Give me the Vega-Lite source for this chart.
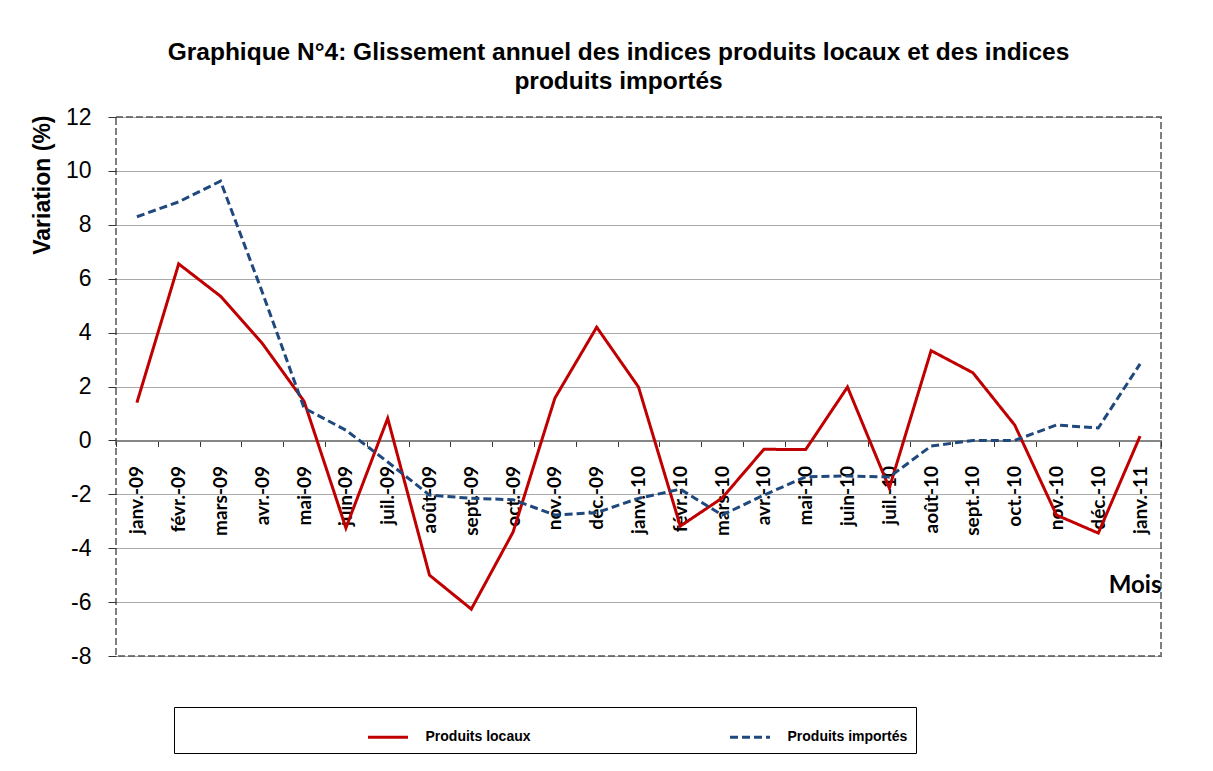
{
  "$schema": "https://vega.github.io/schema/vega-lite/v6.json",
  "width": 1045,
  "height": 539,
  "autosize": {"type": "none"},
  "padding": {"left": 116, "top": 117, "right": 52, "bottom": 115},
  "background": "white",
  "title": {
    "text": ["Graphique N°4: Glissement annuel des indices produits locaux et des indices", "produits importés"],
    "anchor": "middle",
    "frame": "group",
    "dx": -20,
    "offset": 12,
    "font": "Liberation Sans",
    "fontSize": 24.5,
    "fontWeight": "bold",
    "lineHeight": 29,
    "color": "black"
  },
  "config": {
    "font": "Liberation Sans",
    "view": {"stroke": "#7f7f7f", "strokeWidth": 2, "strokeDash": [7, 3]},
    "legend": {
      "orient": "none",
      "legendX": 58,
      "legendY": 590,
      "direction": "horizontal",
      "strokeColor": "black",
      "strokeWidth": 1,
      "padding": 8.5,
      "title": null,
      "symbolType": "stroke",
      "symbolSize": 1600,
      "symbolStrokeWidth": 3,
      "symbolOffset": 184,
      "labelOffset": 16,
      "columnPadding": 13,
      "labelFont": "Liberation Sans",
      "labelFontSize": 14,
      "labelFontWeight": "bold",
      "labelColor": "black",
      "labelLimit": 400
    }
  },
  "data": {
    "values": [
      {"mois": "janv.-09", "Produits locaux": 1.4, "Produits importés": 8.3},
      {"mois": "févr.-09", "Produits locaux": 6.55, "Produits importés": 8.85},
      {"mois": "mars-09", "Produits locaux": 5.35, "Produits importés": 9.62},
      {"mois": "avr.-09", "Produits locaux": 3.6, "Produits importés": 5.5},
      {"mois": "mai-09", "Produits locaux": 1.45, "Produits importés": 1.2},
      {"mois": "juin-09", "Produits locaux": -3.25, "Produits importés": 0.38},
      {"mois": "juil.-09", "Produits locaux": 0.82, "Produits importés": -0.8},
      {"mois": "août-09", "Produits locaux": -5.0, "Produits importés": -2.03},
      {"mois": "sept.-09", "Produits locaux": -6.26, "Produits importés": -2.15},
      {"mois": "oct.-09", "Produits locaux": -3.4, "Produits importés": -2.2},
      {"mois": "nov.-09", "Produits locaux": 1.57, "Produits importés": -2.77},
      {"mois": "déc.-09", "Produits locaux": 4.2, "Produits importés": -2.68},
      {"mois": "janv.-10", "Produits locaux": 1.98, "Produits importés": -2.15},
      {"mois": "févr.-10", "Produits locaux": -3.18, "Produits importés": -1.81},
      {"mois": "mars-10", "Produits locaux": -2.14, "Produits importés": -2.77},
      {"mois": "avr.-10", "Produits locaux": -0.33, "Produits importés": -2.03},
      {"mois": "mai-10", "Produits locaux": -0.34, "Produits importés": -1.35},
      {"mois": "juin-10", "Produits locaux": 1.98, "Produits importés": -1.32},
      {"mois": "juil.-10", "Produits locaux": -1.77, "Produits importés": -1.36},
      {"mois": "août-10", "Produits locaux": 3.33, "Produits importés": -0.21},
      {"mois": "sept.-10", "Produits locaux": 2.51, "Produits importés": 0.0},
      {"mois": "oct.-10", "Produits locaux": 0.57, "Produits importés": 0.0},
      {"mois": "nov.-10", "Produits locaux": -2.77, "Produits importés": 0.57},
      {"mois": "déc.-10", "Produits locaux": -3.44, "Produits importés": 0.46},
      {"mois": "janv.-11", "Produits locaux": 0.16, "Produits importés": 2.84}
    ]
  },
  "transform": [
    {"fold": ["Produits locaux", "Produits importés"], "as": ["serie", "valeur"]}
  ],
  "mark": {"type": "line", "strokeWidth": 3, "strokeCap": "butt", "strokeJoin": "miter"},
  "encoding": {
    "x": {
      "field": "mois",
      "type": "nominal",
      "sort": null,
      "scale": {"paddingInner": 0, "paddingOuter": 0},
      "axis": {
        "title": "Mois",
        "titleFont": "Lato",
        "titleFontSize": 24,
        "titleFontWeight": "bold",
        "titleColor": "black",
        "titleAnchor": "end",
        "titleAlign": "right",
        "titleBaseline": "alphabetic",
        "titleX": 1045,
        "titleY": 151.6,
        "offset": -215.6,
        "tickBand": "extent",
        "domainColor": "#868686",
        "domainWidth": 2,
        "tickColor": "#333333",
        "tickSize": 6,
        "tickWidth": 1,
        "labelAngle": -90,
        "labelFont": "Lato",
        "labelFontSize": 19,
        "labelFontWeight": "bold",
        "labelColor": "black",
        "labelPadding": 19,
        "grid": false
      }
    },
    "y": {
      "field": "valeur",
      "type": "quantitative",
      "scale": {"domain": [-8, 12], "nice": false},
      "axis": {
        "values": [-8, -6, -4, -2, 0, 2, 4, 6, 8, 10, 12],
        "labelExpr": "'' + datum.value",
        "title": "Variation (%)",
        "titleFont": "Liberation Sans",
        "titleFontSize": 23,
        "titleFontWeight": "bold",
        "titleColor": "black",
        "titleAngle": -90,
        "titleAlign": "right",
        "titleBaseline": "top",
        "titleX": -85,
        "titleY": -2,
        "domain": false,
        "tickColor": "#333333",
        "tickSize": 8,
        "labelFont": "Liberation Sans",
        "labelFontSize": 23,
        "labelColor": "black",
        "labelPadding": 17,
        "grid": true,
        "gridColor": "#555555",
        "gridDash": [1, 1],
        "gridWidth": 1
      }
    },
    "color": {
      "field": "serie",
      "type": "nominal",
      "sort": ["Produits locaux", "Produits importés"],
      "scale": {"domain": ["Produits locaux", "Produits importés"], "range": ["#C00000", "#1F497D"]}
    },
    "strokeDash": {
      "field": "serie",
      "type": "nominal",
      "sort": ["Produits locaux", "Produits importés"],
      "scale": {"domain": ["Produits locaux", "Produits importés"], "range": [[1, 0], [8, 4]]}
    }
  }
}
